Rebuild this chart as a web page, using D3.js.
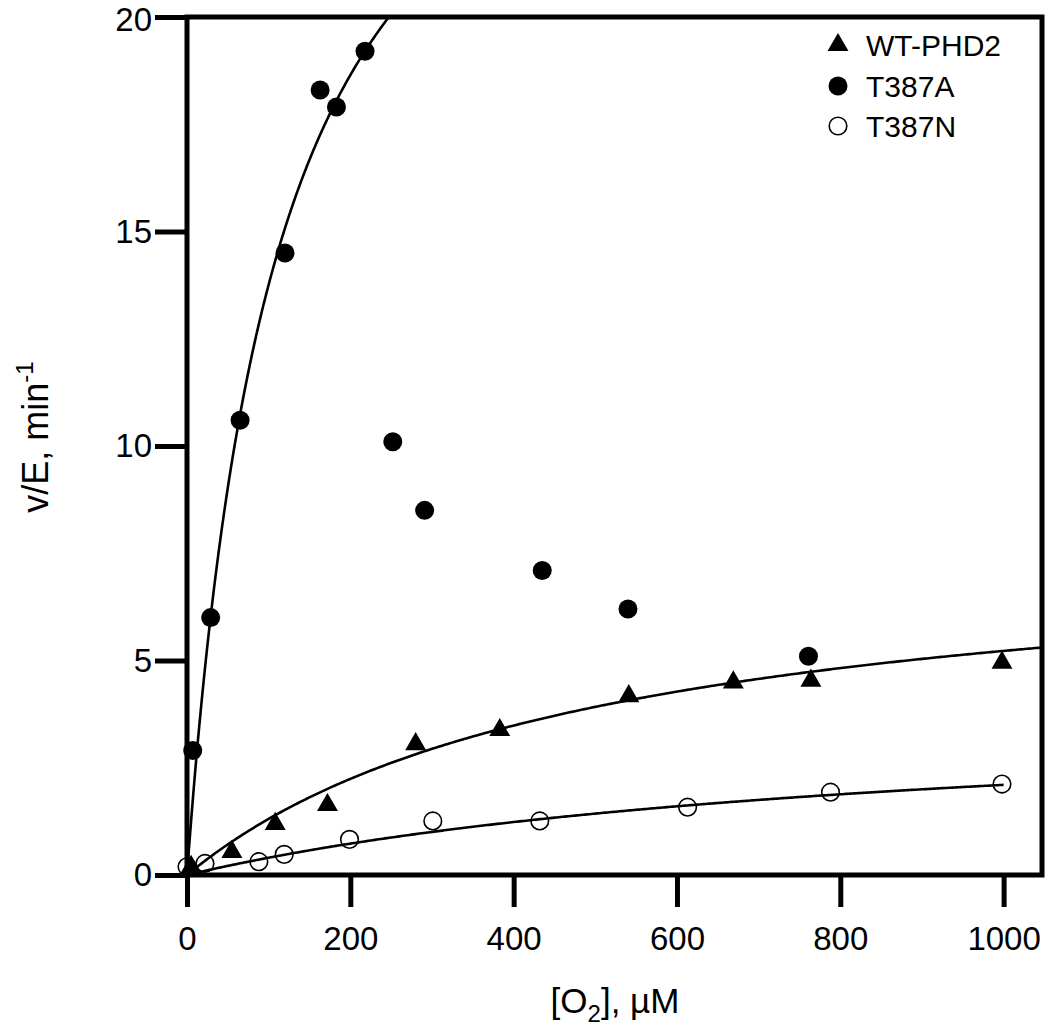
<!DOCTYPE html>
<html><head><meta charset="utf-8">
<script src="https://cdn.jsdelivr.net/npm/d3@7"></script>
<style>body{margin:0;background:#fff;} svg{display:block;font-family:"Liberation Sans",Arial,sans-serif;}</style>
</head><body>
<svg id="c" width="1050" height="1031"></svg>
<script>
// ---- data ----
const seriesNames = ["WT-PHD2", "T387A", "T387N"];
const wtX   = [5, 55, 108, 172, 280, 383, 541, 669, 764, 998];
const wtY   = [0.19, 0.54, 1.19, 1.63, 3.05, 3.38, 4.17, 4.49, 4.53, 4.95];
const t387aX = [7, 29, 65, 120, 163, 183, 218, 252, 291, 435, 540, 761];
const t387aY = [2.9, 6.0, 10.6, 14.5, 18.3, 17.9, 19.2, 10.1, 8.5, 7.1, 6.2, 5.1];
const t387nX = [0, 22, 88, 119, 199, 301, 432, 613, 788, 998];
const t387nY = [0.19, 0.27, 0.31, 0.48, 0.83, 1.26, 1.26, 1.58, 1.93, 2.12];
// Michaelis–Menten fit parameters (Vmax, Km) and fitted x-extent for each series
const fitVmax = [7.83, 28.9, 3.95];
const fitKm   = [499, 110, 880];
const fitXmax = [1047, 300, 1000];
const xTicks = [0, 200, 400, 600, 800, 1000];
const yTicks = [0, 5, 10, 15, 20];

const FONT = '"Liberation Sans",Arial,sans-serif';
const svg = d3.select("#c");
const L = 187, R = 1042, T = 17, B = 875;
const x = d3.scaleLinear().domain([0, 1047]).range([L, R]);
const y = d3.scaleLinear().domain([0, 20]).range([B, T]);

svg.append("defs").append("clipPath").attr("id", "clip")
  .append("rect").attr("x", L).attr("y", T).attr("width", R - L).attr("height", B - T);

// fit curves
const line = d3.line().x(d => x(d[0])).y(d => y(d[1]));
seriesNames.forEach((n, i) => {
  const pts = d3.range(0, 401).map(k => {
    const xv = fitXmax[i] * k / 400;
    return [xv, fitVmax[i] * xv / (fitKm[i] + xv)];
  });
  svg.append("path").attr("d", line(pts)).attr("fill", "none")
    .attr("stroke", "#000").attr("stroke-width", 2.6).attr("clip-path", "url(#clip)");
});

// markers
const tri = d3.symbol().type(d3.symbolTriangle).size(190);
svg.append("g").selectAll("path").data(d3.zip(wtX, wtY)).join("path")
  .attr("d", tri).attr("transform", d => `translate(${x(d[0])},${y(d[1])})`).attr("fill", "#000");
svg.append("g").selectAll("circle").data(d3.zip(t387aX, t387aY)).join("circle")
  .attr("cx", d => x(d[0])).attr("cy", d => y(d[1])).attr("r", 9.5).attr("fill", "#000");
svg.append("g").selectAll("circle").data(d3.zip(t387nX, t387nY)).join("circle")
  .attr("cx", d => x(d[0])).attr("cy", d => y(d[1])).attr("r", 8.8)
  .attr("fill", "none").attr("stroke", "#000").attr("stroke-width", 1.6);

// frame
svg.append("rect").attr("x", L).attr("y", T).attr("width", R - L).attr("height", B - T)
  .attr("fill", "none").attr("stroke", "#000").attr("stroke-width", 5);

// axes
const xAxis = svg.append("g").attr("transform", `translate(0,${B})`)
  .call(d3.axisBottom(x).tickValues(xTicks).tickFormat(d3.format("d"))
    .tickSize(32).tickSizeOuter(0).tickPadding(20));
const yAxis = svg.append("g").attr("transform", `translate(${L},0)`)
  .call(d3.axisLeft(y).tickValues(yTicks).tickFormat(d3.format("d"))
    .tickSize(32).tickSizeOuter(0).tickPadding(3));
[xAxis, yAxis].forEach(g => {
  g.select(".domain").remove();
  g.selectAll(".tick line").attr("stroke", "#000").attr("stroke-width", 5);
  g.selectAll(".tick text").attr("fill", "#000").style("font-size", "33px")
    .style("font-family", FONT);
});
// keep the top label inside the picture
yAxis.selectAll(".tick text").filter(d => d === 20).attr("dy", "0.40em");

// axis titles
const xt = svg.append("text").attr("x", 615).attr("y", 1013).attr("text-anchor", "middle")
  .style("font-size", "35px");
xt.append("tspan").text("[O");
xt.append("tspan").attr("dy", 9).style("font-size", "24px").text("2");
xt.append("tspan").attr("dy", -9).text("], µM");

const yt = svg.append("text").attr("transform", "translate(48,437) rotate(-90)")
  .attr("text-anchor", "middle").style("font-size", "36px");
yt.append("tspan").text("v/E, min");
yt.append("tspan").attr("dy", -15).style("font-size", "24px").text("-1");

// legend
const lg = svg.append("g");
const lx = 838, ly = [45, 86, 126];
lg.append("path").attr("d", tri).attr("transform", `translate(${lx},${ly[0]})`).attr("fill", "#000");
lg.append("circle").attr("cx", lx).attr("cy", ly[1]).attr("r", 9.5).attr("fill", "#000");
lg.append("circle").attr("cx", lx).attr("cy", ly[2]).attr("r", 8.8).attr("fill", "none")
  .attr("stroke", "#000").attr("stroke-width", 1.6);
seriesNames.forEach((n, i) => {
  lg.append("text").attr("x", 866).attr("y", ly[i]).attr("dy", "0.36em")
    .style("font-size", "30px").text(n);
});
</script>
</body></html>
